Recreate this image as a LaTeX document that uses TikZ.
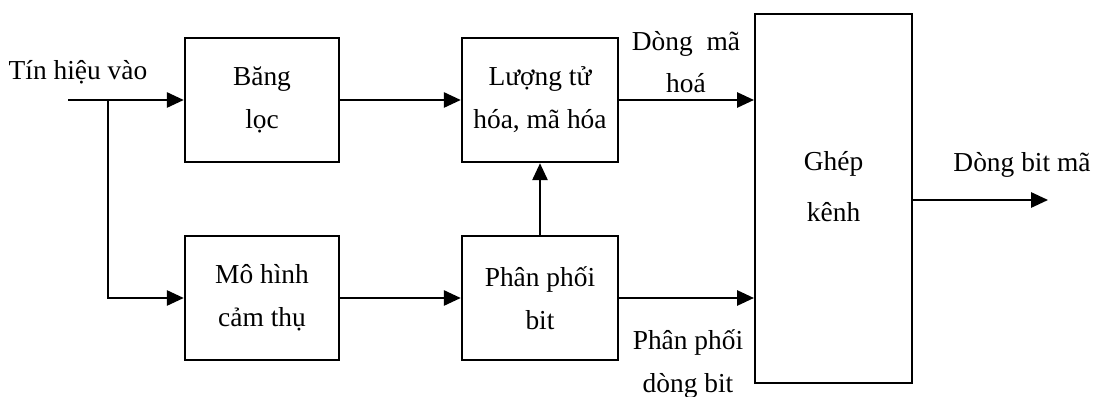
\documentclass[tikz,border=0pt]{standalone}
\usepackage{fontspec}
\setmainfont{Liberation Serif}
\usetikzlibrary{arrows.meta, positioning, calc}

\begin{document}
\begin{tikzpicture}[
    block/.style={rectangle, draw, line width=1.8pt, minimum width=3.85cm, minimum height=3.1cm, align=center, font=\fontsize{19.5}{30.5}\selectfont},
    lbl/.style={align=center, font=\fontsize{19.5}{30}\selectfont},
    flow/.style={line width=1.3pt, -{Triangle[length=0.42cm, width=0.38cm]}}
]
    \useasboundingbox (0,0) rectangle (27.425,9.9);

    \node[block] (bangloc) at (6.55, 7.4) {Băng\\lọc};
    \node[block] (mohinh) at (6.55, 2.45) {Mô hình\\cảm thụ};
    \node[block, minimum width=3.9cm] (luongtu) at (13.5, 7.4) {Lượng tử\\hóa, mã hóa};
    \node[block, minimum width=3.9cm] (phanphoi) at (13.5, 2.45) {Phân phối\\bit};
    \node[block, minimum width=3.92cm, minimum height=9.22cm] (ghep) at (20.84, 4.94) {};
    \node[lbl] (gheptext) at ($(ghep.center)+(0,0.3)$) {Ghép\\[6pt]kênh};

    \node[lbl] (tinhieu) at (1.95, 8.1) {Tín hiệu vào};
    \node[lbl] (dongma) at (17.15, 8.34) {Dòng~~mã\\hoá};
    \node[lbl] (ppdong) at (17.2, 0.8) {Phân phối\\dòng bit};
    \node[lbl] (dongbit) at (25.55, 5.78) {Dòng bit mã};

    \coordinate (in) at (1.7, 7.4);
    \coordinate (branch) at (2.7, 7.4);
    \coordinate (out) at (26.2, 4.9);

    \draw[flow] (in) -- (bangloc);
    \draw[flow] (branch) |- (mohinh);
    \draw[flow] (bangloc) -- (luongtu);
    \draw[flow] (mohinh) -- (phanphoi);
    \draw[flow] (phanphoi) -- (luongtu);
    \draw[flow] (luongtu) -- (luongtu -| ghep.west);
    \draw[flow] (phanphoi) -- (phanphoi -| ghep.west);
    \draw[flow] (ghep.east |- out) -- (out);
\end{tikzpicture}
\end{document}
